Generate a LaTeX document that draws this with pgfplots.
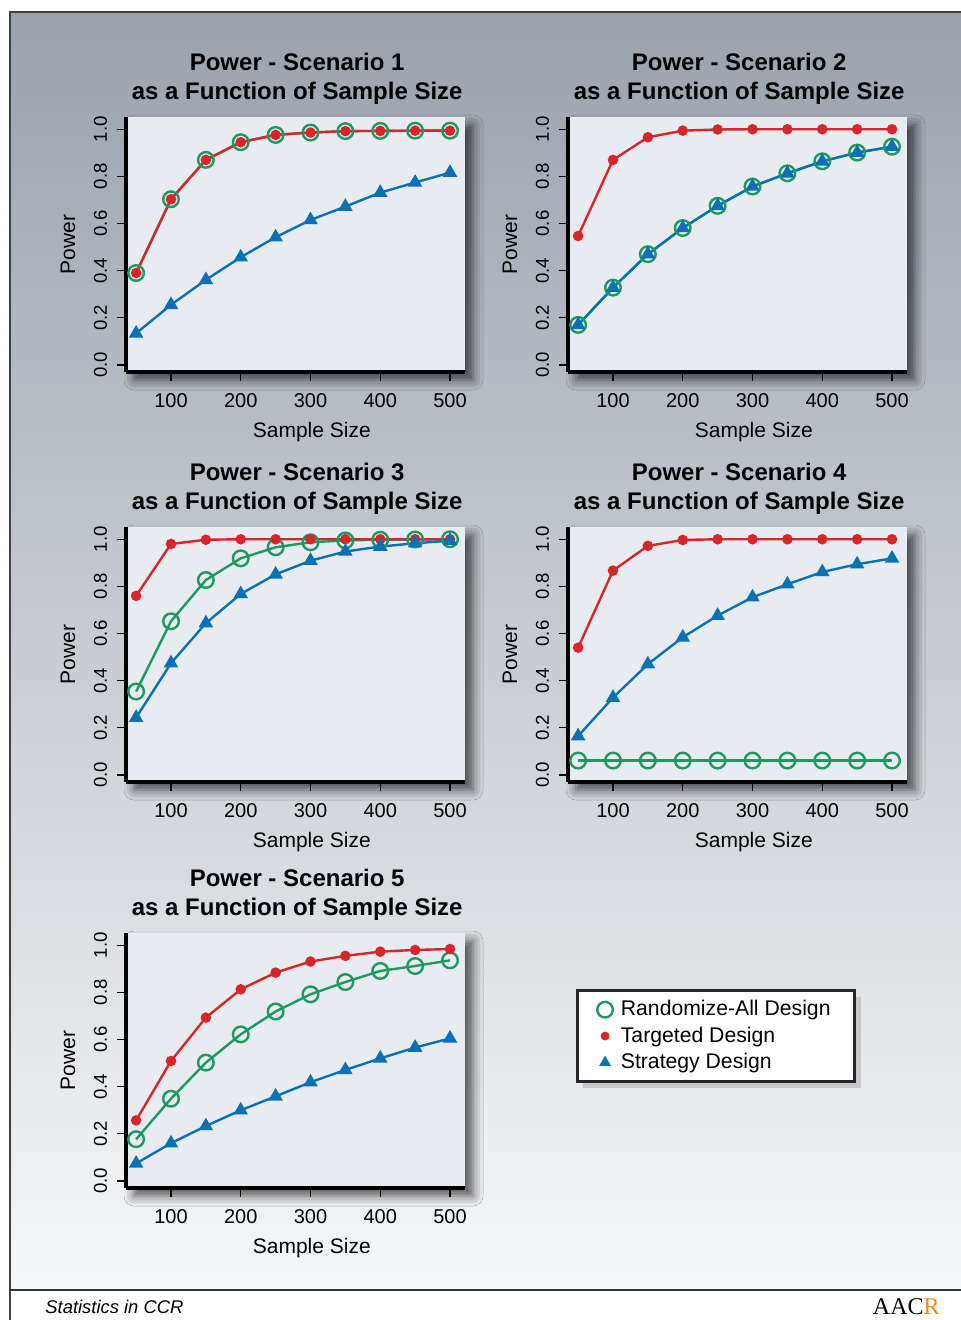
\documentclass[border=0pt]{standalone}
\usepackage{fontspec}
\setmainfont{Liberation Sans}
\newfontfamily\logofont{Liberation Serif}
\usepackage{pgfplots}
\pgfplotsset{compat=1.18}
\usetikzlibrary{shadows,shadows.blur}

\definecolor{cred}{HTML}{D7262B}
\definecolor{cgreen}{HTML}{1F9962}
\definecolor{cblue}{HTML}{0A72B4}
\definecolor{panel}{HTML}{E8EBEF}
\definecolor{bgtop}{HTML}{9BA2AC}
\definecolor{bgbot}{HTML}{F6F7F8}
\definecolor{corange}{HTML}{F08A1C}

\pgfplotsset{
  powerplot/.style={
    scale only axis,
    width=169.5pt, height=127.5pt,
    xmin=35.5, xmax=521.5, ymin=-0.03, ymax=1.052,
    xtick={100,200,300,400,500},
    ytick={0,0.2,0.4,0.6,0.8,1.0},
    axis lines=left,
    axis line style={-, draw=black, line width=1.6pt},
    tick align=outside,
    major tick length=4.5pt,
    tick style={line width=0.6pt, black},
    /pgf/number format/assume math mode=true,
    yticklabel style={/pgf/number format/fixed, /pgf/number format/fixed zerofill,
      /pgf/number format/precision=1, rotate=90, anchor=south,
      font=\fontsize{9.3}{11}\selectfont},
    yticklabel shift=1.5pt,
    xticklabel shift=2.5pt,
    xticklabel style={font=\fontsize{10}{12}\selectfont},
    xlabel={Sample Size}, ylabel={Power},
    every axis x label/.style={at={(axis description cs:0.548,-0.255)}, anchor=base},
    every axis y label/.style={at={(axis description cs:-0.171,0.5)}, rotate=90, anchor=center},
    label style={font=\fontsize{10.5}{12}\selectfont},
    title style={at={(axis description cs:0.505,1)}, font=\fontsize{12}{14.5}\selectfont\bfseries,
      align=center, yshift=-3.5pt},
    axis background/.style={fill=panel, blur shadow={shadow xshift=4pt,
      shadow yshift=-4pt, shadow blur radius=5pt, shadow opacity=65}},
    clip=false,
  },
  ra/.style={color=cgreen, line width=1.2pt, mark=o, mark size=3.9pt, mark options={line width=1.2pt}},
  td/.style={color=cred, line width=1.2pt, mark=*, mark size=2pt},
  sd/.style={color=cblue, line width=1.2pt, mark=triangle*, mark size=3pt},
}

\begin{document}
\begin{tikzpicture}
% page background and frame (1px = 0.5pt, origin top left)
\fill[white] (0,0) rectangle (480.5pt,-660pt);
\shade[top color=bgtop, bottom color=bgbot] (5pt,-6pt) rectangle (480.5pt,-645pt);
\draw[line width=0.8pt, black!75] (5pt,-660pt) -- (5pt,-6pt) -- (480.5pt,-6pt);
\draw[line width=0.6pt, black!80] (5pt,-645pt) -- (480.5pt,-645pt);
\node[anchor=base west, font=\fontsize{9.2}{11}\selectfont\itshape, inner sep=0pt] at (22.5pt,-656.5pt) {Statistics in CCR};
\node[anchor=base east, inner sep=0pt] at (470pt,-657pt) {\logofont\fontsize{12}{12}\selectfont AAC\textcolor{corange}{R}};

% Scenario 1
\begin{axis}[powerplot, at={(63pt,-186pt)}, anchor=south west,
  title={Power - Scenario 1\\as a Function of Sample Size}]
\addplot[ra] coordinates {(50,0.390)(100,0.703)(150,0.870)(200,0.945)(250,0.976)(300,0.986)(350,0.992)(400,0.993)(450,0.994)(500,0.994)};
\addplot[td] coordinates {(50,0.390)(100,0.703)(150,0.870)(200,0.945)(250,0.976)(300,0.986)(350,0.992)(400,0.993)(450,0.994)(500,0.994)};
\addplot[sd] coordinates {(50,0.134)(100,0.255)(150,0.361)(200,0.457)(250,0.542)(300,0.615)(350,0.672)(400,0.731)(450,0.774)(500,0.816)};
\end{axis}

% Scenario 2
\begin{axis}[powerplot, at={(284pt,-186pt)}, anchor=south west,
  title={Power - Scenario 2\\as a Function of Sample Size}]
\addplot[ra] coordinates {(50,0.170)(100,0.328)(150,0.470)(200,0.581)(250,0.675)(300,0.757)(350,0.813)(400,0.864)(450,0.901)(500,0.926)};
\addplot[td] coordinates {(50,0.547)(100,0.870)(150,0.966)(200,0.994)(250,0.999)(300,1.0)(350,1.0)(400,1.0)(450,1.0)(500,1.0)};
\addplot[sd] coordinates {(50,0.170)(100,0.328)(150,0.470)(200,0.581)(250,0.675)(300,0.757)(350,0.813)(400,0.864)(450,0.901)(500,0.926)};
\end{axis}

% Scenario 3
\begin{axis}[powerplot, at={(63pt,-391pt)}, anchor=south west,
  title={Power - Scenario 3\\as a Function of Sample Size}]
\addplot[ra] coordinates {(50,0.354)(100,0.652)(150,0.827)(200,0.919)(250,0.966)(300,0.987)(350,0.995)(400,0.998)(450,0.999)(500,1.0)};
\addplot[td] coordinates {(50,0.760)(100,0.980)(150,0.998)(200,1.0)(250,1.0)(300,1.0)(350,1.0)(400,1.0)(450,1.0)(500,1.0)};
\addplot[sd] coordinates {(50,0.243)(100,0.474)(150,0.644)(200,0.768)(250,0.851)(300,0.909)(350,0.948)(400,0.969)(450,0.983)(500,0.994)};
\end{axis}

% Scenario 4
\begin{axis}[powerplot, at={(284pt,-391pt)}, anchor=south west,
  title={Power - Scenario 4\\as a Function of Sample Size}]
\addplot[ra] coordinates {(50,0.061)(100,0.061)(150,0.061)(200,0.061)(250,0.061)(300,0.061)(350,0.061)(400,0.061)(450,0.061)(500,0.061)};
\addplot[td] coordinates {(50,0.540)(100,0.867)(150,0.972)(200,0.997)(250,1.0)(300,1.0)(350,1.0)(400,1.0)(450,1.0)(500,1.0)};
\addplot[sd] coordinates {(50,0.165)(100,0.328)(150,0.470)(200,0.584)(250,0.676)(300,0.754)(350,0.809)(400,0.861)(450,0.894)(500,0.919)};
\end{axis}

% Scenario 5 (carries the legend)
\begin{axis}[powerplot, at={(63pt,-594pt)}, anchor=south west,
  title={Power - Scenario 5\\as a Function of Sample Size},
  legend style={at={(1.327,0.780)}, anchor=north west, draw=black!85, line width=1.4pt,
    fill=white, font=\fontsize{10.6}{13}\selectfont, cells={anchor=west},
    inner xsep=10pt, inner ysep=3pt, row sep=0pt,
    drop shadow={shadow xshift=3pt, shadow yshift=-3pt, opacity=0.3}}]
\addlegendimage{only marks, mark=o, color=cgreen, mark size=3.9pt, mark options={line width=1.2pt}}
\addlegendimage{only marks, mark=*, color=cred, mark size=2pt, mark options={line width=0.4pt}}
\addlegendimage{only marks, mark=triangle*, color=cblue, mark size=3pt, mark options={line width=0.4pt}}
\legend{\hspace{2pt}Randomize-All Design, \hspace{2pt}Targeted Design, \hspace{2pt}Strategy Design}
\addplot[ra] coordinates {(50,0.177)(100,0.349)(150,0.502)(200,0.622)(250,0.719)(300,0.792)(350,0.844)(400,0.891)(450,0.912)(500,0.936)};
\addplot[td] coordinates {(50,0.257)(100,0.509)(150,0.693)(200,0.813)(250,0.884)(300,0.931)(350,0.955)(400,0.973)(450,0.980)(500,0.984)};
\addplot[sd] coordinates {(50,0.074)(100,0.160)(150,0.233)(200,0.300)(250,0.359)(300,0.419)(350,0.471)(400,0.520)(450,0.566)(500,0.605)};
\end{axis}

\pgfresetboundingbox
\path (0,0) rectangle (480.5pt,-660pt);
\end{tikzpicture}
\end{document}
